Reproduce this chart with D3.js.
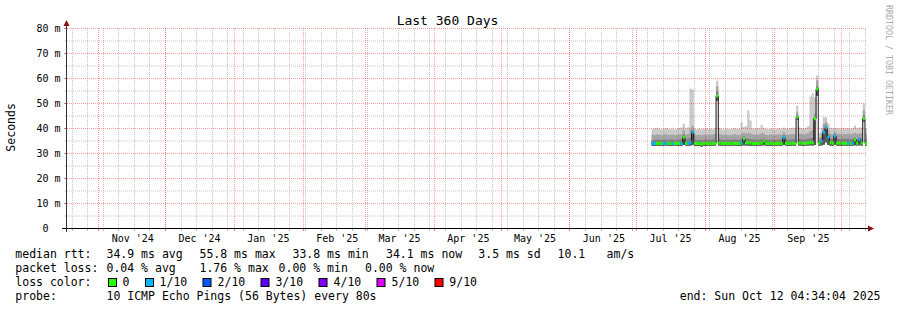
<!DOCTYPE html>
<html>
<head>
<meta charset="utf-8">
<script src="https://cdn.jsdelivr.net/npm/d3@7"></script>
<style>
  body { margin: 0; background: #fff; }
  svg text { font-family: "DejaVu Sans Mono", monospace; fill: #000; }
</style>
</head>
<body>
<div id="chart"></div>
<script>
// one value per day, first day 2025-07-08 (ms)
const median = [34.0,33.9,34.1,34.0,34.0,33.9,34.0,34.1,34.0,33.9,
  34.0,34.1,34.0,34.0,36.5,34.1,34.0,34.3,38.5,34.1,
  34.0,34.0,33.8,34.0,34.1,34.0,33.9,34.0,34.1,53.0,
  34.2,34.0,34.0,34.1,34.0,33.9,34.0,34.1,34.0,34.0,
  34.2,35.9,34.2,34.3,34.2,34.0,34.0,34.1,34.0,34.2,
  35.0,34.0,34.0,34.1,34.0,33.9,34.0,34.1,34.0,36.4,
  34.1,34.0,34.0,34.1,34.0,44.5,34.2,34.1,34.0,34.1,
  34.2,34.3,34.3,43.9,55.8,34.2,34.8,38.5,40.3,36.5,
  34.3,34.1,37.0,34.2,34.1,34.0,34.1,34.0,34.1,34.0,
  34.1,35.4,34.1,35.5,34.2,43.9,34.1];
// lost pings out of 10
const lossCount = [1,1,0,0,0,1,1,0,0,1,
  0,0,0,1,0,0,1,1,1,0,
  0,0,0,0,0,0,0,0,0,0,
  0,0,0,0,0,0,0,0,0,0,
  1,0,0,0,0,0,0,0,0,0,
  0,0,0,0,0,0,0,0,0,1,
  0,0,0,0,0,0,0,0,0,0,
  0,0,0,0,0,0,1,1,1,1,
  0,0,1,0,0,0,0,0,1,0,
  1,0,0,1,0,0,0];
const pingMin = [33.1,33.0,33.2,33.1,33.0,33.1,33.2,33.1,33.0,33.1,
  33.2,33.1,33.0,33.1,33.4,33.2,33.1,33.2,33.4,33.1,
  33.0,33.1,32.8,33.0,33.1,33.2,33.0,33.1,33.2,51.2,
  33.2,33.1,33.0,33.2,33.1,33.0,33.1,33.2,33.1,33.0,
  33.2,33.3,33.2,33.2,33.1,33.1,33.0,33.2,33.1,33.2,
  33.3,33.1,33.0,33.1,33.2,33.0,33.1,33.2,33.1,33.4,
  33.2,33.1,33.0,33.2,33.1,43.6,33.2,33.1,33.0,33.2,
  33.2,33.3,33.2,33.4,53.2,33.2,33.3,33.6,34.5,33.5,
  33.2,33.1,33.4,33.2,33.1,33.1,33.2,33.1,33.2,33.1,
  33.2,33.3,33.2,33.3,33.2,42.8,33.2];
const pingQ8 = [35.4,35.5,35.6,35.4,35.5,35.6,35.5,35.4,35.6,35.5,
  35.3,35.5,35.6,35.7,37.6,35.6,35.8,36.4,39.4,35.5,
  35.4,35.5,35.2,35.5,35.6,35.4,35.5,35.6,35.5,54.8,
  35.7,35.5,35.4,35.6,35.5,35.4,35.5,35.6,35.5,35.4,
  35.9,36.8,35.8,36.0,35.8,35.6,35.5,35.6,35.5,35.8,
  36.0,35.5,35.4,35.5,35.6,35.4,35.5,35.6,35.5,37.4,
  35.6,35.5,35.6,35.7,35.6,45.4,35.8,35.7,35.6,35.7,
  35.9,36.2,36.3,44.6,56.9,35.2,36.4,39.6,41.2,37.6,
  35.9,35.8,37.9,35.9,35.8,35.7,35.9,35.8,35.9,35.8,
  35.9,36.3,35.8,36.4,36.0,45.2,35.8];
const pingQ9 = [37.6,37.4,37.7,37.5,37.3,37.6,37.8,37.4,37.5,37.6,
  37.3,37.5,37.7,37.8,39.3,37.6,37.9,39.8,41.0,37.5,
  37.4,37.6,37.3,37.5,37.7,37.4,37.6,37.5,37.8,57.0,
  37.7,37.5,37.4,37.6,37.5,37.3,37.6,37.7,37.5,37.4,
  38.0,38.4,37.9,38.3,38.0,37.6,37.5,37.7,37.6,38.1,
  37.9,37.5,37.4,37.6,37.5,37.4,37.6,37.7,37.5,38.6,
  37.6,37.5,37.7,37.8,37.6,46.5,37.9,37.8,37.6,37.8,
  38.2,39.0,39.4,46.0,59.2,36.4,38.0,41.8,42.6,39.5,
  37.9,37.8,38.7,37.9,37.8,37.7,37.9,37.8,38.0,37.7,
  37.9,38.2,37.8,38.1,38.0,47.2,37.9];
const pingMax = [39.8,40.1,40.2,39.9,39.6,40.0,40.3,39.8,39.7,40.0,
  39.5,39.9,40.1,40.4,41.9,40.0,40.5,55.9,55.6,39.8,
  39.6,40.0,39.7,39.9,40.2,39.8,40.0,39.7,40.1,59.2,
  40.2,39.9,39.6,40.0,39.8,39.7,40.0,40.1,39.9,39.8,
  42.5,40.6,40.9,47.2,43.2,40.1,39.9,40.2,40.0,41.5,
  40.3,39.9,39.7,40.0,39.8,39.6,40.0,40.1,39.9,40.4,
  40.0,39.9,40.2,40.3,40.1,49.2,40.4,40.2,40.0,40.3,
  41.0,52.8,54.1,52.5,61.2,38.2,40.2,44.5,44.5,42.0,
  40.3,40.1,40.4,40.2,40.0,40.1,40.3,40.0,40.2,39.9,
  40.2,41.2,40.1,40.4,40.3,49.9,40.2];

const yTicks = [0, 10, 20, 30, 40, 50, 60, 70, 80];
const yMinor = [5, 15, 25, 35, 45, 55, 65, 75];

const lossLabels = ["0", "1/10", "2/10", "3/10", "4/10", "5/10", "9/10"];
const lossColors = ["#26ff00", "#00b8ff", "#0059ff", "#5e00ff", "#7e00ff", "#dd00ff", "#ff0000"];

const rttStats = ["34.9 ms avg", "55.8 ms max", "33.8 ms min", "34.1 ms now", "3.5 ms sd", "10.1", "am/s"];
const lossStats = ["0.04 % avg", "1.76 % max", "0.00 % min", "0.00 % now"];
const probeText = "10 ICMP Echo Pings (56 Bytes) every 80s";
const endText = "end: Sun Oct 12 04:34:04 2025";

// layout
const W = 897, H = 310;
const pLeft = 67, pRight = 867, pTop = 28, pBottom = 228;
const rttX = [106.5, 199.5, 292.5, 386, 478.3, 557.6, 606.6];
const lossStatX = [106.5, 199.5, 278.6, 365];
const boxX = [108.5, 145.5, 203, 261, 319, 377, 435];
const boxLabelX = [122.6, 159.6, 217.6, 275.4, 333.6, 391.6, 449.3];

const t0 = new Date(Date.UTC(2024, 9, 17, 22));
const t1 = d3.utcDay.offset(t0, 360);
const day0 = new Date(Date.UTC(2025, 6, 8));

const x = d3.scaleUtc().domain([t0, t1]).range([pLeft, pRight]);
const y = d3.scaleLinear().domain([0, 80]).range([pBottom + 0.5, pTop + 0.5]);

const svg = d3.select("#chart").append("svg")
  .attr("width", W).attr("height", H)
  .attr("viewBox", [0, 0, W, H].join(" "));

svg.append("rect").attr("width", W).attr("height", H).attr("fill", "#fff");

svg.append("clipPath").attr("id", "plotclip")
  .append("rect").attr("x", pLeft).attr("y", pTop).attr("width", pRight - pLeft).attr("height", pBottom - pTop);

const days = median.map((m, i) => ({
  t: d3.utcDay.offset(day0, i), med: m, loss: lossCount[i],
  lo: pingMin[i], q8: pingQ8[i], q9: pingQ9[i], hi: pingMax[i]
}));
const stepData = days.concat([Object.assign({}, days[days.length - 1], { t: d3.utcDay.offset(day0, days.length) })]);

const plot = svg.append("g").attr("clip-path", "url(#plotclip)");

// smoke
const bands = [["hi", "#cacaca"], ["q9", "#a4a4a4"], ["q8", "#7e7e7e"], ["med", "#585858"]];
bands.forEach(([k, c]) => {
  plot.append("path").datum(stepData)
    .attr("fill", c)
    .attr("d", d3.area().curve(d3.curveStepAfter)
      .x(d => x(d.t)).y0(d => y(d.lo)).y1(d => y(d[k])));
});

// grid
const weeks = d3.utcSunday.range(t0, t1);
const months = d3.utcMonth.range(t0, t1);
const px = v => Math.round(v) + 0.5;
const minorCol = "rgba(140,140,140,0.5)", majorCol = "rgba(255,0,0,0.38)";

const grid = svg.append("g").attr("fill", "none").attr("stroke-width", 1).attr("stroke-dasharray", "1,1");
grid.selectAll(".wk").data(weeks).join("line")
  .attr("x1", d => px(x(d))).attr("x2", d => px(x(d)))
  .attr("y1", pTop).attr("y2", pBottom).attr("stroke", minorCol);
grid.selectAll(".hm").data(yMinor).join("line")
  .attr("x1", pLeft).attr("x2", pRight).attr("y1", d => y(d)).attr("y2", d => y(d))
  .attr("stroke", minorCol);
grid.selectAll(".mo").data(months).join("line")
  .attr("x1", d => px(x(d))).attr("x2", d => px(x(d)))
  .attr("y1", pTop).attr("y2", pBottom).attr("stroke", majorCol);
grid.selectAll(".hM").data(yTicks.slice(1)).join("line")
  .attr("x1", pLeft).attr("x2", pRight).attr("y1", d => y(d)).attr("y2", d => y(d))
  .attr("stroke", majorCol);

// median line + loss colour
plot.append("path").datum(stepData)
  .attr("fill", "none").attr("stroke", "#111").attr("stroke-width", 1)
  .attr("d", d3.line().curve(d3.curveStepAfter).x(d => x(d.t)).y(d => y(d.med)));

plot.selectAll(".seg").data(days).join("line")
  .attr("x1", d => x(d.t)).attr("x2", d => x(d3.utcDay.offset(d.t, 1)))
  .attr("y1", d => y(d.med)).attr("y2", d => y(d.med))
  .attr("stroke", d => lossColors[d.loss]).attr("stroke-width", 3);

// axis ticks
const ticks = svg.append("g").attr("stroke-width", 1);
ticks.selectAll(".tw").data(weeks).join("line")
  .attr("x1", d => px(x(d))).attr("x2", d => px(x(d))).attr("y1", pBottom).attr("y2", pBottom + 3)
  .attr("stroke", "#bbb");
ticks.selectAll(".tm").data(months).join("line")
  .attr("x1", d => px(x(d))).attr("x2", d => px(x(d))).attr("y1", pBottom).attr("y2", pBottom + 3)
  .attr("stroke", "#f08080");
ticks.selectAll(".ty").data(yTicks.slice(1)).join("line")
  .attr("x1", pLeft - 3).attr("x2", pLeft).attr("y1", d => y(d)).attr("y2", d => y(d))
  .attr("stroke", "#d08080");
ticks.selectAll(".tyn").data(yMinor).join("line")
  .attr("x1", pLeft - 2).attr("x2", pLeft).attr("y1", d => y(d)).attr("y2", d => y(d))
  .attr("stroke", "#bbb");

// axes lines and arrows
svg.append("line").attr("x1", 62).attr("x2", 869).attr("y1", pBottom + 0.5).attr("y2", pBottom + 0.5)
  .attr("stroke", "#000");
svg.append("line").attr("x1", pLeft - 0.5).attr("x2", pLeft - 0.5).attr("y1", 232).attr("y2", 24)
  .attr("stroke", "#333");
svg.append("path").attr("d", "M868,225.5L874,228.5L868,231.5Z").attr("fill", "#8b1010");
svg.append("path").attr("d", "M63.5,26L66.5,20L69.5,26Z").attr("fill", "#8b1010");

// y axis labels
const yAxis = svg.append("g").attr("transform", "translate(60.5,0)")
  .call(d3.axisLeft(y).tickValues(yTicks).tickSize(0).tickPadding(0)
    .tickFormat(d => d ? d + " m" : "0"));
yAxis.select(".domain").remove();
yAxis.selectAll("text").attr("font-family", "DejaVu Sans Mono").attr("font-size", 10)
  .attr("fill", "#000").attr("x", d => d ? 0 : -12);
yAxis.attr("font-family", null).attr("font-size", null);

// x axis month labels
const xAxis = svg.append("g").attr("transform", `translate(0,${pBottom})`)
  .call(d3.axisBottom(x).tickValues(d3.utcMonth.range(new Date(Date.UTC(2024, 10, 1)), new Date(Date.UTC(2025, 9, 1))))
    .tickSize(0).tickPadding(6.9).tickFormat(d3.utcFormat("%b '%y")));
xAxis.select(".domain").remove();
xAxis.selectAll("text").attr("font-family", "DejaVu Sans Mono").attr("font-size", 10)
  .attr("fill", "#000").attr("x", 34);

// title and side texts
svg.append("text").attr("x", 447.5).attr("y", 24.5).attr("text-anchor", "middle")
  .attr("font-size", 13).text("Last 360 Days");
svg.append("text").attr("transform", "translate(15,127.4) rotate(-90)").attr("text-anchor", "middle")
  .attr("font-size", 11.5).text("Seconds");
svg.append("text").attr("transform", "translate(886,5) rotate(90)")
  .attr("font-size", 8.3).style("fill", "#aaa").text("RRDTOOL / TOBI OETIKER");

// legend
const lg = svg.append("g").attr("font-size", 11.5);
lg.append("text").attr("x", 15.3).attr("y", 258).text("median rtt:");
lg.selectAll(".rs").data(rttStats).join("text")
  .attr("x", (d, i) => rttX[i]).attr("y", 258).text(d => d);
lg.append("text").attr("x", 15.3).attr("y", 272).text("packet loss:");
lg.selectAll(".ls").data(lossStats).join("text")
  .attr("x", (d, i) => lossStatX[i]).attr("y", 272).text(d => d);
lg.append("text").attr("x", 15.3).attr("y", 286).text("loss color:");
lg.selectAll(".lb").data(lossColors).join("rect")
  .attr("x", (d, i) => boxX[i]).attr("y", 278.5).attr("width", 8).attr("height", 8)
  .attr("fill", d => d).attr("stroke", "#000").attr("stroke-width", 1);
lg.selectAll(".ll").data(lossLabels).join("text")
  .attr("x", (d, i) => boxLabelX[i]).attr("y", 286).text(d => d);
lg.append("text").attr("x", 15.3).attr("y", 300).text("probe:");
lg.append("text").attr("x", 106.5).attr("y", 300).text(probeText);
lg.append("text").attr("x", 880.5).attr("y", 300).attr("text-anchor", "end").text(endText);
</script>
</body>
</html>
